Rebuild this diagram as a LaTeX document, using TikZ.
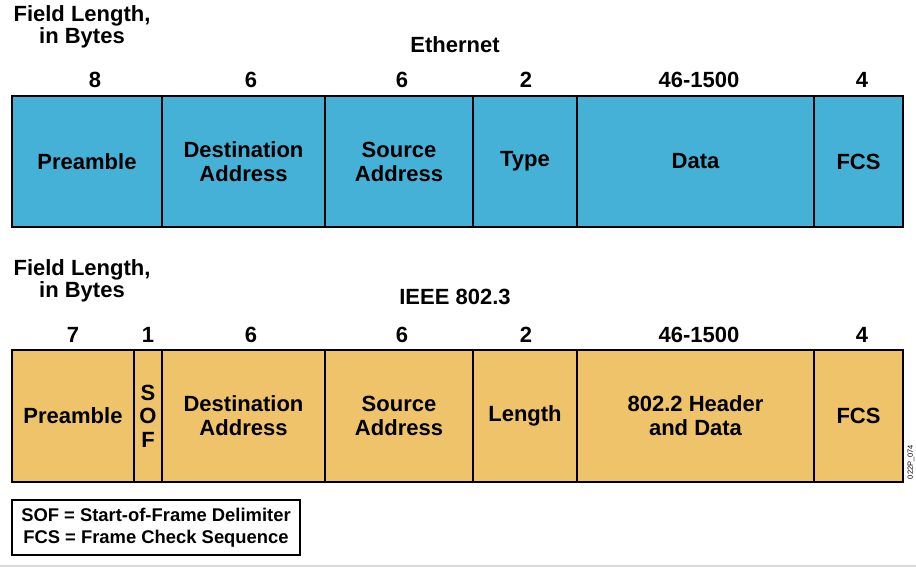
\documentclass[tikz,border=0pt]{standalone}
\usepackage{fontspec}
\setmainfont{Liberation Sans}
\usetikzlibrary{positioning}

\definecolor{ethblue}{RGB}{70,177,214}
\definecolor{ieeeorange}{RGB}{238,195,106}

\begin{document}
\begin{tikzpicture}[
        x=1pt, y=-1pt,
        field/.style={draw, line width=2pt, inner sep=0pt, align=center,
          font=\fontsize{22}{24}\selectfont\bfseries, minimum height=131pt},
        eth/.style={field, fill=ethblue},
        ieee/.style={field, fill=ieeeorange, minimum height=132pt},
        lbl/.style={inner sep=0pt, align=center,
          font=\fontsize{22}{22}\selectfont\bfseries}
      ]
        \useasboundingbox (0,0) rectangle (916,567);
        % Ethernet frame
        \node[lbl] (len1) at (82,27) {Field Length,\\in Bytes};
        \node[lbl] (title1) at (455,45) {Ethernet};
        \node[eth, minimum width=150pt] (pre1) at (87,161.5) {Preamble};
        \node[eth, minimum width=163pt] (dst1) at (243.5,161.5) {Destination\\Address};
        \node[eth, minimum width=148pt] (src1) at (399,161.5) {Source\\Address};
        \node[eth, minimum width=104pt] (type1) at (525,161.5) {Type};
        \node[eth, minimum width=237pt] (data1) at (695.5,161.5) {Data};
        \node[eth, minimum width=89pt] (fcs1) at (858.5,161.5) {FCS};
        \node[lbl] (n8) at (95,80) {8};
        \node[lbl] (n6a) at (251,80) {6};
        \node[lbl] (n6b) at (402,80) {6};
        \node[lbl] (n2a) at (526,80) {2};
        \node[lbl] (n46a) at (699,80) {46-1500};
        \node[lbl] (n4a) at (862,80) {4};
        % IEEE 802.3 frame
        \node[lbl] (len2) at (82,281) {Field Length,\\in Bytes};
        \node[lbl] (title2) at (455,297) {IEEE 802.3};
        \node[ieee, minimum width=122pt] (pre2) at (73,416) {Preamble};
        \node[ieee, minimum width=28pt, font=\fontsize{22}{23.5}\selectfont\bfseries] (sof2) at (148,416) {S\\O\\F};
        \node[ieee, minimum width=163pt] (dst2) at (243.5,416) {Destination\\Address};
        \node[ieee, minimum width=148pt] (src2) at (399,416) {Source\\Address};
        \node[ieee, minimum width=104pt] (len2f) at (525,416) {Length};
        \node[ieee, minimum width=237pt] (data2) at (695.5,416) {802.2 Header\\and Data};
        \node[ieee, minimum width=89pt] (fcs2) at (858.5,416) {FCS};
        \node[lbl] (n7) at (73,335) {7};
        \node[lbl] (n1) at (148,335) {1};
        \node[lbl] (n6c) at (251,335) {6};
        \node[lbl] (n6d) at (402,335) {6};
        \node[lbl] (n2b) at (526,335) {2};
        \node[lbl] (n46b) at (699,335) {46-1500};
        \node[lbl] (n4b) at (862,335) {4};
        \node[inner sep=0pt, rotate=90, font=\fontsize{7.5}{8}\selectfont] (code) at (911,462) {022P\_074};
        % legend
        \node[draw, line width=2pt, inner sep=0pt, minimum width=288pt, minimum height=55pt,
          align=center, font=\fontsize{18.4}{22}\selectfont\bfseries] (key) at (156,527.5)
          {SOF = Start-of-Frame Delimiter\\FCS = Frame Check Sequence};
        \draw[line width=2pt, black!15] (0,565.5) -- (916,565.5);
      \end{tikzpicture}
\end{document}
